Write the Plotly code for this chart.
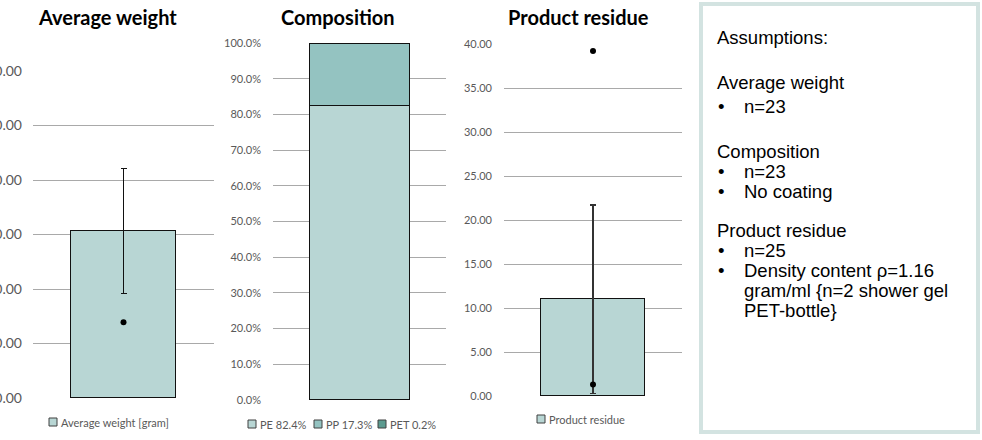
import plotly.graph_objects as go

# ---------------- data ----------------
weight_category = ["Average weight [gram]"]
weight_mean = [30.6]
weight_sd = [11.5]
weight_points = [64.6, 13.9]
weight_ticks = [0, 10, 20, 30, 40, 50, 60]

composition_category = ["Composition"]
composition_names = ["PE 82.4%", "PP 17.3%", "PET 0.2%"]
composition_values = [82.4, 17.3, 0.2]
composition_ticks = [0, 10, 20, 30, 40, 50, 60, 70, 80, 90, 100]
composition_ticklabels = ["%.1f%%" % v for v in composition_ticks]

residue_category = ["Product residue"]
residue_mean = [11.0]
residue_sd = [10.7]
residue_points = [39.2, 1.3]
residue_ticks = [0, 5, 10, 15, 20, 25, 30, 35, 40]

assumption_lines = [
    ("Assumptions:", False),
    ("Average weight", False),
    ("n=23", True),
    ("Composition", False),
    ("n=23", True),
    ("No coating", True),
    ("Product residue", False),
    ("n=25", True),
    ("Density content ρ=1.16", True),
    ("gram/ml {n=2 shower gel", None),
    ("PET-bottle}", None),
]

# ---------------- styling ----------------
W, H = 982, 440
def px(x):
    return x / W
def py(y):
    return 1 - y / H

FONT = "Lato"
LABEL_COLOR = "#595959"
GRID = "#a9a9a9"
COLORS = ["#b8d6d4", "#94c3c1", "#5b9a8f"]
BAR_LINE = dict(color="#111111", width=1.4)

fig = go.Figure()

# Panel 1: average weight
fig.add_trace(go.Bar(
    x=weight_category, y=weight_mean, width=0.575,
    marker=dict(color=COLORS[0], line=BAR_LINE),
    error_y=dict(type="data", array=weight_sd, color="#111111", thickness=1, width=3),
    xaxis="x", yaxis="y", showlegend=False, hoverinfo="y"))
fig.add_trace(go.Scatter(
    x=weight_category * len(weight_points), y=weight_points, mode="markers",
    marker=dict(color="black", size=6), cliponaxis=False,
    xaxis="x", yaxis="y", showlegend=False))

# Panel 2: composition (stacked)
for name, val, col in zip(composition_names, composition_values, COLORS):
    fig.add_trace(go.Bar(
        x=composition_category, y=[val], name=name, width=0.578,
        marker=dict(color=col, line=BAR_LINE),
        xaxis="x2", yaxis="y2", showlegend=False))

# Panel 3: product residue
fig.add_trace(go.Bar(
    x=residue_category, y=residue_mean, width=0.584,
    marker=dict(color=COLORS[0], line=BAR_LINE),
    error_y=dict(type="data", array=residue_sd, color="#333333", thickness=1.2, width=3),
    xaxis="x3", yaxis="y3", showlegend=False))
fig.add_trace(go.Scatter(
    x=residue_category * len(residue_points), y=residue_points, mode="markers",
    marker=dict(color="black", size=6), cliponaxis=False,
    xaxis="x3", yaxis="y3", showlegend=False))

def xax(d0, d1, anchor):
    return dict(domain=[px(d0), px(d1)], type="category", range=[-0.5, 0.5],
                showticklabels=False, showgrid=False, zeroline=False,
                showline=False, ticks="", automargin=False, fixedrange=True,
                anchor=anchor)

def yax(y0, y1, rng, ticks, anchor, fmt=None, labels=None, size=11, standoff=10):
    d = dict(domain=[py(y0), py(y1)], range=rng, tickvals=ticks,
             showgrid=True, gridcolor=GRID, gridwidth=1.2,
             zeroline=False, showline=False, ticks="",
             ticklabelstandoff=standoff, automargin=False, anchor=anchor,
             tickfont=dict(family=FONT, size=size, color=LABEL_COLOR),
             fixedrange=True)
    if labels is not None:
        d["ticktext"] = labels
    if fmt is not None:
        d["tickformat"] = fmt
    return d

fig.update_layout(
    width=W, height=H,
    margin=dict(l=0, r=0, t=0, b=0),
    paper_bgcolor="white", plot_bgcolor="white",
    barmode="stack", bargap=0,
    xaxis=xax(33, 214, "y"),
    yaxis=yax(398, 71, [0, 60], weight_ticks, "x", fmt=".2f", size=14, standoff=10),
    xaxis2=xax(273, 446, "y2"),
    yaxis2=yax(400, 43, [0, 100], composition_ticks, "x2", labels=composition_ticklabels, standoff=11),
    xaxis3=xax(504, 682, "y3"),
    yaxis3=yax(396, 44, [0, 40], residue_ticks, "x3", fmt=".2f", standoff=11),
    font=dict(family=FONT, color=LABEL_COLOR),
)

annotations = []
shapes = []

# titles
for text, cx in [("Average weight", 107), ("Composition", 338), ("Product residue", 578)]:
    annotations.append(dict(text="<b>%s</b>" % text, x=px(cx), y=py(17), xref="paper", yref="paper",
                            xanchor="center", yanchor="middle", showarrow=False,
                            font=dict(family=FONT, size=20, color="black")))

# legends (square swatch + label)
legend_items = [
    (weight_category[0], COLORS[0], 49, 422),
    (composition_names[0], COLORS[0], 248, 424),
    (composition_names[1], COLORS[1], 314, 424),
    (composition_names[2], COLORS[2], 378, 424),
    (residue_category[0], COLORS[0], 537, 419),
]
for text, col, x0, yc in legend_items:
    shapes.append(dict(type="rect", xref="paper", yref="paper",
                       x0=px(x0), x1=px(x0 + 8), y0=py(yc + 4), y1=py(yc - 4),
                       fillcolor=col, line=dict(color="#404040", width=1)))
    annotations.append(dict(text=text, x=px(x0 + 10), y=py(yc), xref="paper", yref="paper",
                            xanchor="left", yanchor="middle", showarrow=False,
                            font=dict(family=FONT, size=11, color=LABEL_COLOR)))

# assumptions box
shapes.append(dict(type="rect", xref="paper", yref="paper",
                   x0=px(701), x1=px(978), y0=py(432), y1=py(4),
                   fillcolor="white", line=dict(color="#d3e3e1", width=4), layer="below"))

ys = [37, 82, 106, 151, 171, 191, 230, 250, 270, 290, 310]
for (text, bullet), yc in zip(assumption_lines, ys):
    tx = 742 if bullet is None or bullet else 715
    annotations.append(dict(text=text, x=px(tx), y=py(yc), xref="paper", yref="paper",
                            xanchor="left", yanchor="middle", showarrow=False,
                            font=dict(family="Liberation Sans", size=18.5, color="black")))
    if bullet:
        annotations.append(dict(text="•", x=px(716), y=py(yc), xref="paper", yref="paper",
                                xanchor="left", yanchor="middle", showarrow=False,
                                font=dict(family="Liberation Sans", size=18.5, color="black")))

fig.update_layout(annotations=annotations, shapes=shapes)
fig.write_html("out.html")
